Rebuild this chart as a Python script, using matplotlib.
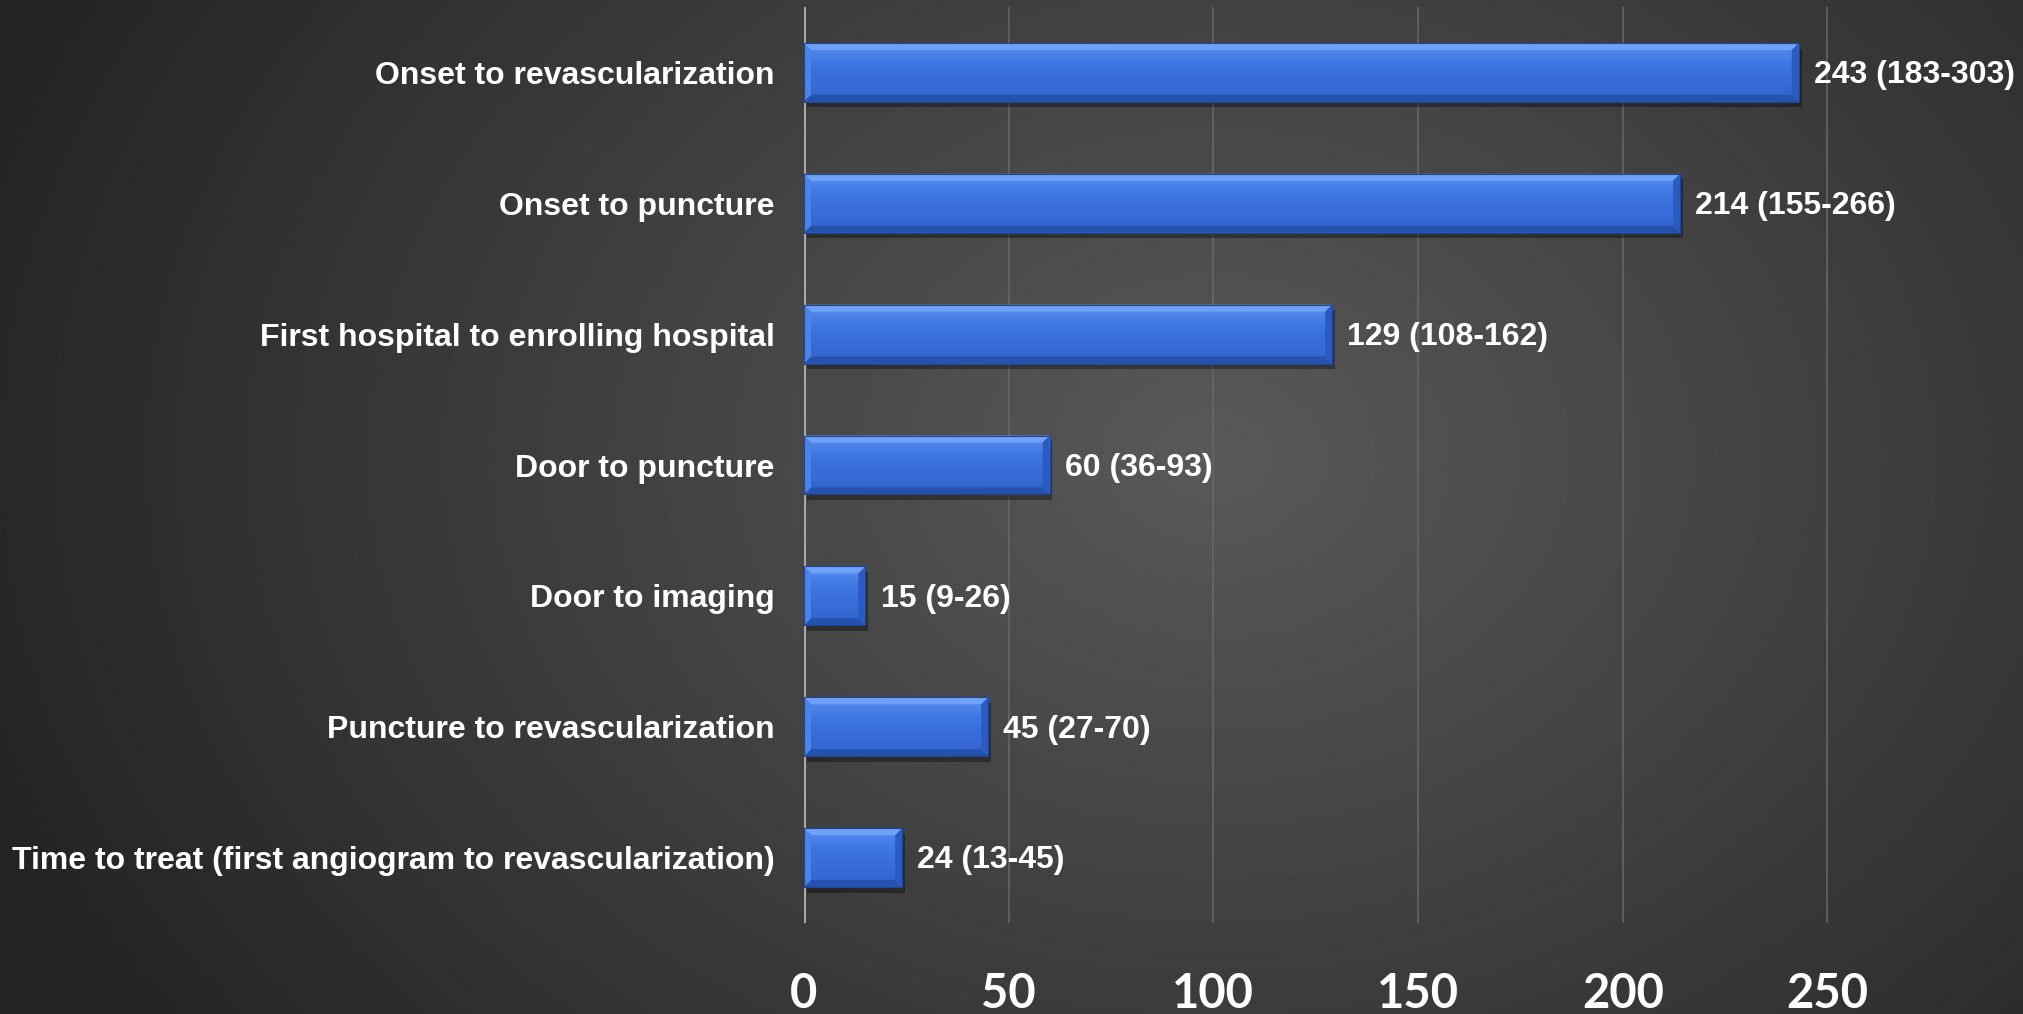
import numpy as np
import matplotlib.pyplot as plt
import matplotlib.transforms as mtransforms
from matplotlib.colors import LinearSegmentedColormap
from matplotlib.patches import Polygon, Rectangle

# Workflow time intervals, minutes: median (IQR)
categories = [
    "Onset to revascularization",
    "Onset to puncture",
    "First hospital to enrolling hospital",
    "Door to puncture",
    "Door to imaging",
    "Puncture to revascularization",
    "Time to treat (first angiogram to revascularization)",
]
medians = [243, 214, 129, 60, 15, 45, 24]
iqr_low = [183, 155, 108, 36, 9, 27, 13]
iqr_high = [303, 266, 162, 93, 26, 70, 45]
xticks = [0, 50, 100, 150, 200, 250]

plt.rcParams["font.family"] = ["Liberation Sans", "DejaVu Sans"]

W, H, DPI = 2024, 1014, 100
fig = plt.figure(figsize=(W / DPI, H / DPI), dpi=DPI)

# dark radial backdrop
bg = fig.add_axes([0, 0, 1, 1], zorder=0)
yy, xx = np.mgrid[0:1:400j, 0:1:800j]
r = np.sqrt(((xx - 0.6) / 0.65) ** 2 + ((yy - 0.55) / 1.0) ** 2)
shade = np.clip(1 - r, 0, 1)
img = 0.14 + (0.35 - 0.14) * shade
bg.imshow(img, cmap="gray", vmin=0, vmax=1, extent=(0, 1, 0, 1),
          origin="lower", aspect="auto", interpolation="bilinear")
bg.set_axis_off()

ax = fig.add_axes([0.3972, 0.0897, 0.6028, 0.9034], zorder=1)
ax.patch.set_alpha(0)

y = np.arange(len(categories))
bar_h = 0.45
bars = ax.barh(y, medians, height=bar_h, color="#3a6fd9", zorder=3)

xmax = 298
ax.set_xlim(0, xmax)
ax.set_ylim(len(categories) - 0.5, -0.5)

# bevel sizes in data units (about 7 px)
ax_w_px = 0.6028 * W
ax_h_px = 0.9034 * H
dx = 7 * xmax / ax_w_px
dy = 7 * len(categories) / ax_h_px

shadow_tr = ax.transData + mtransforms.ScaledTranslation(2 / 72, -4 / 72, fig.dpi_scale_trans)
grad = np.linspace(0, 1, 64)[:, None] * np.ones((1, 4))
face_cmap = LinearSegmentedColormap.from_list(
    "face", ["#5a90f0", "#3f76e2", "#386cd8", "#3063cc"])

for b in bars:
    x0, y0 = b.get_x(), b.get_y()
    x1, y1 = x0 + b.get_width(), y0 + b.get_height()

    # soft drop shadow
    ax.add_patch(Rectangle((x0, y0), x1 - x0, y1 - y0, transform=shadow_tr,
                           color="black", alpha=0.35, lw=0, zorder=2))

    # face gradient, lighter at the top
    im = ax.imshow(grad, cmap=face_cmap, extent=(x0, x1, y1, y0),
                   origin="upper", aspect="auto", zorder=3.1)
    im.set_clip_path(b)

    bevels = [
        ([(x0, y0), (x1, y0), (x1 - dx, y0 + dy), (x0 + dx, y0 + dy)], "#6fa2f6"),
        ([(x0, y1), (x1, y1), (x1 - dx, y1 - dy), (x0 + dx, y1 - dy)], "#2552ad"),
        ([(x1, y0), (x1, y1), (x1 - dx, y1 - dy), (x1 - dx, y0 + dy)], "#2b5bc0"),
        ([(x0, y0), (x0, y1), (x0 + dx, y1 - dy), (x0 + dx, y0 + dy)], "#4c84e8"),
    ]
    for pts, c in bevels:
        ax.add_patch(Polygon(pts, closed=True, color=c, lw=0, zorder=3.2))
    ax.add_patch(Rectangle((x0, y0), x1 - x0, y1 - y0, fill=False,
                           ec="#1f4494", lw=0.8, zorder=3.3))

ax.set_xlim(0, xmax)
ax.set_ylim(len(categories) - 0.5, -0.5)

for yi, m, lo, hi in zip(y, medians, iqr_low, iqr_high):
    ax.annotate(f"{m} ({lo}-{hi})", xy=(m, yi), xytext=(11, -2),
                textcoords="offset points", ha="left", va="center",
                fontsize=23, fontweight="bold", color="white", zorder=5)

ax.set_yticks(y, categories)
ax.set_xticks(xticks)
for lbl in ax.get_yticklabels():
    lbl.set_fontweight("bold")
    lbl.set_fontsize(23)
    lbl.set_color("white")
for lbl in ax.get_xticklabels():
    lbl.set_fontfamily("Lato")
    lbl.set_fontweight("bold")
    lbl.set_fontsize(34)
    lbl.set_color("white")
ax.tick_params(axis="y", length=0, pad=21)
ax.tick_params(axis="x", length=0, pad=35)

for s in ax.spines.values():
    s.set_visible(False)
ax.xaxis.grid(True, color="#686868", lw=1.1, zorder=1)
ax.set_axisbelow(True)
ax.axvline(0, color="#a8a8a8", lw=2.2, zorder=2.5)

fig.savefig("out.png", dpi=DPI)
